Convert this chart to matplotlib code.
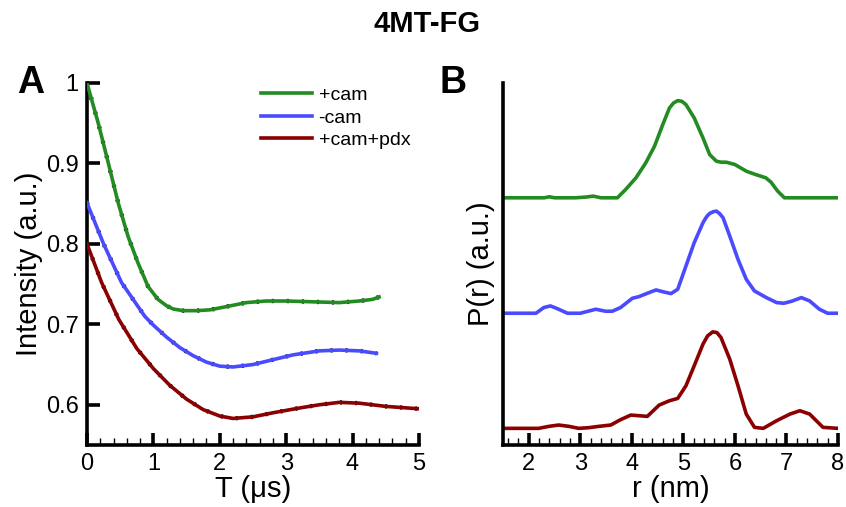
"""
4MT-FG: DEER time traces (A) and distance distributions (B).
"""

import matplotlib
matplotlib.use("Agg")
import matplotlib.pyplot as plt
from matplotlib.ticker import MultipleLocator

plt.rcParams["font.family"] = ["Liberation Sans", "DejaVu Sans"]

GREEN = "#228b22"
BLUE = "#4a4aff"
RED = "#8b0000"

labels = ["+cam", "-cam", "+cam+pdx"]

# panel A: time traces (us, a.u.)
green_t = [0, 0.17, 0.32, 0.47, 0.62, 0.77, 0.92, 1.07, 1.2, 1.3, 1.45, 1.65, 1.85, 2.1,
           2.4, 2.7, 3.0, 3.4, 3.8, 4.1, 4.3, 4.4]
green_v = [1.0, 0.95, 0.901, 0.851, 0.809, 0.776, 0.747, 0.731, 0.723, 0.719, 0.717, 0.717,
           0.718, 0.722, 0.727, 0.729, 0.729, 0.728, 0.727, 0.729, 0.731, 0.734]
blue_t = [0, 0.25, 0.52, 0.87, 1.0, 1.2, 1.4, 1.6, 1.8, 2.0, 2.2, 2.5, 2.8, 3.1, 3.5,
          3.8, 4.1, 4.36]
blue_v = [0.851, 0.80, 0.752, 0.710, 0.699, 0.684, 0.671, 0.661, 0.653, 0.648, 0.647,
          0.650, 0.656, 0.662, 0.667, 0.668, 0.667, 0.664]
red_t = [0, 0.22, 0.48, 0.75, 1.0, 1.25, 1.5, 1.75, 2.0, 2.2, 2.5, 2.8, 3.2, 3.5, 3.8,
         4.1, 4.5, 5.0]
red_v = [0.80, 0.752, 0.706, 0.670, 0.645, 0.624, 0.607, 0.594, 0.586, 0.583, 0.585,
         0.590, 0.596, 0.600, 0.603, 0.602, 0.598, 0.595]

# panel B: distance distributions (nm, height above each baseline)
green_r = [1.5, 2.3, 2.4, 2.5, 2.9, 3.1, 3.25, 3.4, 3.72, 3.88, 4.08, 4.27, 4.44, 4.6,
           4.73, 4.81, 4.89, 4.97, 5.05, 5.21, 5.38, 5.51, 5.64, 5.73, 5.83, 6.0, 6.22,
           6.4, 6.6, 6.7, 6.83, 6.96, 8.0]
green_p = [0, 0, 0.03, 0, 0, 0.02, 0.05, 0, 0, 0.25, 0.6, 1.05, 1.55, 2.2, 2.7, 2.85,
           2.92, 2.9, 2.8, 2.4, 1.8, 1.3, 1.1, 1.07, 1.07, 1.0, 0.8, 0.7, 0.6, 0.47,
           0.2, 0, 0]
blue_r = [1.5, 2.14, 2.29, 2.42, 2.55, 2.75, 3.0, 3.3, 3.49, 3.62, 3.78, 4.01, 4.14,
          4.3, 4.47, 4.62, 4.76, 4.89, 5.05, 5.21, 5.38, 5.45, 5.51, 5.58, 5.64, 5.7,
          5.77, 5.9, 6.06, 6.22, 6.38, 6.61, 6.81, 6.95, 7.1, 7.29, 7.45, 7.64, 7.8, 8.0]
blue_p = [0, 0, 0.17, 0.22, 0.14, 0, 0, 0.12, 0.06, 0.06, 0.17, 0.45, 0.5, 0.6, 0.7,
          0.64, 0.59, 0.72, 1.42, 2.12, 2.72, 2.9, 3.0, 3.05, 3.07, 3.0, 2.87, 2.32,
          1.62, 1.02, 0.67, 0.47, 0.32, 0.3, 0.36, 0.47, 0.37, 0.12, 0, 0]
red_r = [1.5, 2.19, 2.39, 2.58, 2.78, 2.97, 3.16, 3.36, 3.59, 3.78, 3.98, 4.14, 4.3,
         4.53, 4.73, 4.89, 5.05, 5.21, 5.38, 5.47, 5.57, 5.65, 5.73, 5.9, 6.06, 6.22,
         6.38, 6.55, 6.81, 7.07, 7.26, 7.45, 7.71, 8.0]
red_p = [0, 0, 0.06, 0.1, 0.06, 0, 0.02, 0.06, 0.1, 0.26, 0.4, 0.38, 0.36, 0.7, 0.83,
         0.9, 1.28, 1.88, 2.53, 2.78, 2.9, 2.88, 2.73, 2.08, 1.28, 0.43, 0.03, 0, 0.23,
         0.43, 0.53, 0.43, 0.03, 0]
baselines = [7.43, 3.96, 0.5]

fig = plt.figure(figsize=(8.46, 5.07), dpi=100)
fig.text(0.505, 0.952, "4MT-FG", ha="center", va="center", fontsize=21, fontweight="bold")

# ---- panel A ----
axA = fig.add_axes([0.1028, 0.1223, 0.3924, 0.714])
for t, v, c, lab in [(green_t, green_v, GREEN, labels[0]),
                     (blue_t, blue_v, BLUE, labels[1]),
                     (red_t, red_v, RED, labels[2])]:
    axA.plot(t, v, color="black", lw=3.1, ls=(0, (0.5, 3.0)), zorder=2)
    axA.plot(t, v, color=c, lw=2.6, label=lab, zorder=3, solid_joinstyle="round")
axA.set_xlim(0, 5)
axA.set_ylim(0.55, 1.0)
axA.set_xticks([0, 1, 2, 3, 4, 5])
axA.set_yticks([0.6, 0.7, 0.8, 0.9, 1.0])
axA.set_yticklabels(["0.6", "0.7", "0.8", "0.9", "1"])
axA.xaxis.set_minor_locator(MultipleLocator(0.2))
axA.set_xlabel("T (\u03bcs)", fontsize=21, labelpad=0)
axA.set_ylabel("Intensity (a.u.)", fontsize=21, labelpad=2)
axA.legend(loc="upper left", bbox_to_anchor=(0.525, 0.99), frameon=False, fontsize=14,
           handlelength=2.6, handletextpad=0.35, labelspacing=0.25, borderpad=0,
           borderaxespad=0)
axA.text(-0.17, 1.0, "A", transform=axA.transAxes, fontsize=27, fontweight="bold",
         ha="center", va="center")

# ---- panel B ----
axB = fig.add_axes([0.5946, 0.1223, 0.3959, 0.714])
for r, p, b, c in [(green_r, green_p, baselines[0], GREEN),
                   (blue_r, blue_p, baselines[1], BLUE),
                   (red_r, red_p, baselines[2], RED)]:
    axB.plot(r, [b + x for x in p], color=c, lw=2.6, solid_joinstyle="round")
axB.set_xlim(1.5, 8)
axB.set_ylim(0, 10.88)
axB.set_xticks([2, 3, 4, 5, 6, 7, 8])
axB.xaxis.set_minor_locator(MultipleLocator(0.2))
axB.set_yticks([])
axB.set_xlabel("r (nm)", fontsize=21, labelpad=0)
axB.set_ylabel("P(r) (a.u.)", fontsize=21, labelpad=6)
axB.text(-0.15, 1.0, "B", transform=axB.transAxes, fontsize=27, fontweight="bold",
         ha="center", va="center")

for ax in (axA, axB):
    for s in ("top", "right"):
        ax.spines[s].set_visible(False)
    for s in ("left", "bottom"):
        ax.spines[s].set_linewidth(2.6)
    ax.tick_params(which="major", direction="in", length=9, width=2.6, labelsize=17, pad=6)
    ax.tick_params(which="minor", direction="in", length=5, width=1)

fig.savefig("out.png", dpi=100)
